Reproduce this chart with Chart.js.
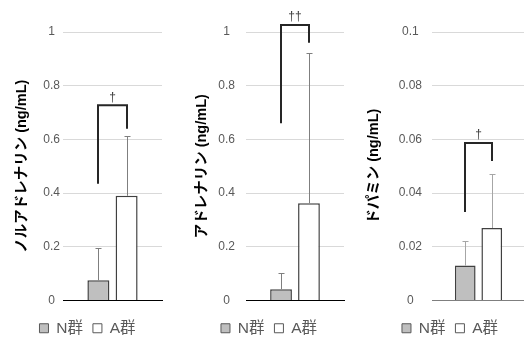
<!DOCTYPE html>
<html lang="ja">
<head>
<meta charset="UTF-8">
<title>カテコールアミン</title>
<script src="https://cdn.jsdelivr.net/npm/chart.js@4.4.0/dist/chart.umd.min.js"></script>
<style>
  html, body { margin: 0; padding: 0; background: #fff; overflow: hidden; }
  body { width: 524px; height: 341px; position: relative; }
  .panel { position: absolute; top: 0; }
</style>
</head>
<body>
<div class="panel" style="left:0px"><canvas id="c1" width="175" height="346"></canvas></div>
<div class="panel" style="left:181px"><canvas id="c2" width="176" height="346"></canvas></div>
<div class="panel" style="left:362px"><canvas id="c3" width="176" height="346"></canvas></div>
<script>
// グループ
const groups = ['N群', 'A群'];

// ノルアドレナリン
const norMean = [0.075, 0.39];
const norSD = [0.122, 0.222];
const norBracket = [0.435, 0.727, 0.64];
const norTicks = ['0', '0.2', '0.4', '0.6', '0.8', '1'];

// アドレナリン
const adrMean = [0.042, 0.362];
const adrSD = [0.062, 0.561];
const adrBracket = [0.66, 1.026, 0.96];
const adrTicks = ['0', '0.2', '0.4', '0.6', '0.8', '1'];

// ドパミン
const dopMean = [0.013, 0.027];
const dopSD = [0.009, 0.020];
const dopBracket = [0.033, 0.0587, 0.052];
const dopTicks = ['0', '0.02', '0.04', '0.06', '0.08', '0.1'];

const fontFam = '"Liberation Sans", Arial, "Noto Sans CJK JP", sans-serif';

// エラーバー（上側のみ）と有意差の括弧
const extras = {
  id: 'extras',
  afterDatasetsDraw(chart, args, o) {
    const ctx = chart.ctx, y = chart.scales.y;
    ctx.save();
    ctx.strokeStyle = o.errColor;
    ctx.lineWidth = 1;
    o.sd.forEach((sd, i) => {
      const bar = chart.getDatasetMeta(i).data[0];
      const x = Math.round(bar.x) + 0.5;
      const top = Math.round(y.getPixelForValue(o.mean[i] + sd)) + 0.5;
      ctx.beginPath();
      ctx.moveTo(x, bar.y);
      ctx.lineTo(x, top);
      ctx.moveTo(x - 3, top);
      ctx.lineTo(x + 3, top);
      ctx.stroke();
    });
    ctx.restore();
  },
  afterDraw(chart, args, o) {
    const ctx = chart.ctx, y = chart.scales.y;
    const x1 = Math.round(chart.getDatasetMeta(0).data[0].x);
    const x2 = Math.round(chart.getDatasetMeta(1).data[0].x);
    const b = o.bracket;
    const yTop = y.getPixelForValue(b[1]);
    ctx.save();
    ctx.strokeStyle = '#262626';
    ctx.lineWidth = 2;
    ctx.lineJoin = 'miter';
    ctx.beginPath();
    ctx.moveTo(x1, y.getPixelForValue(b[0]));
    ctx.lineTo(x1, yTop);
    ctx.lineTo(x2, yTop);
    ctx.lineTo(x2, y.getPixelForValue(b[2]));
    ctx.stroke();
    ctx.fillStyle = '#404040';
    ctx.font = '12px ' + fontFam;
    ctx.textAlign = 'center';
    ctx.textBaseline = 'bottom';
    ctx.fillText(o.mark, (x1 + x2) / 2, yTop - 2);
    ctx.restore();
  }
};

function makePanel(id, title, mean, sd, bracket, mark, ticks, max, step, cfg) {
  new Chart(document.getElementById(id), {
    type: 'bar',
    data: {
      labels: [''],
      datasets: [
        { label: groups[0], data: [mean[0]], backgroundColor: '#bfbfbf', borderColor: '#404040', borderWidth: 1.5 },
        { label: groups[1], data: [mean[1]], backgroundColor: '#ffffff', borderColor: '#404040', borderWidth: 1.5 }
      ]
    },
    options: {
      responsive: false,
      animation: false,
      devicePixelRatio: 1,
      categoryPercentage: 0.57,
      barPercentage: 0.78,
      layout: { padding: { top: 32, left: 0, right: 0, bottom: 0 } },
      scales: {
        x: {
          grid: { display: false, drawTicks: true, tickLength: 10 },
          ticks: { display: false },
          border: { display: true, color: cfg.axisColor, width: 1 }
        },
        y: {
          min: 0, max: max,
          ticks: {
            stepSize: step,
            padding: cfg.tickPad,
            crossAlign: 'center',
            color: '#595959',
            font: { family: fontFam, size: 12 },
            callback: (v, i) => ticks[i]
          },
          grid: { color: '#d9d9d9', drawTicks: false },
          border: { display: false },
          title: {
            display: true,
            text: title,
            color: '#000',
            font: { family: fontFam, size: 14.5, weight: 'bold' },
            padding: { top: cfg.titlePad, bottom: 0 }
          },
          afterFit(s) { s.width = cfg.yWidth; }
        },
        sp: {
          position: 'right',
          display: true,
          grid: { display: false },
          ticks: { display: false },
          border: { display: false },
          afterFit(s) { s.width = 13; }
        }
      },
      plugins: {
        legend: {
          position: 'bottom',
          labels: {
            boxWidth: 9, boxHeight: 9, padding: 10,
            color: '#595959',
            font: { family: fontFam, size: 15.5 },
            generateLabels(chart) {
              return Chart.defaults.plugins.legend.labels.generateLabels(chart)
                .map(l => Object.assign(l, { lineWidth: 1, strokeStyle: '#595959' }));
            }
          }
        },
        tooltip: { enabled: false },
        extras: { mean: mean, sd: sd, bracket: bracket, mark: mark, errColor: cfg.errColor }
      }
    },
    plugins: [extras]
  });
}

makePanel('c1', 'ノルアドレナリン (ng/mL)', norMean, norSD, norBracket, '†', norTicks, 1, 0.2,
  { yWidth: 63, tickPad: 3, titlePad: 13, axisColor: '#000', errColor: '#7f7f7f' });
makePanel('c2', 'アドレナリン (ng/mL)', adrMean, adrSD, adrBracket, '††', adrTicks, 1, 0.2,
  { yWidth: 65, tickPad: 11, titlePad: 12, axisColor: '#000', errColor: '#7f7f7f' });
makePanel('c3', 'ドパミン (ng/mL)', dopMean, dopSD, dopBracket, '†', dopTicks, 0.1, 0.02,
  { yWidth: 70, tickPad: 10, titlePad: 3, axisColor: '#7f7f7f', errColor: '#a6a6a6' });
</script>
</body>
</html>
